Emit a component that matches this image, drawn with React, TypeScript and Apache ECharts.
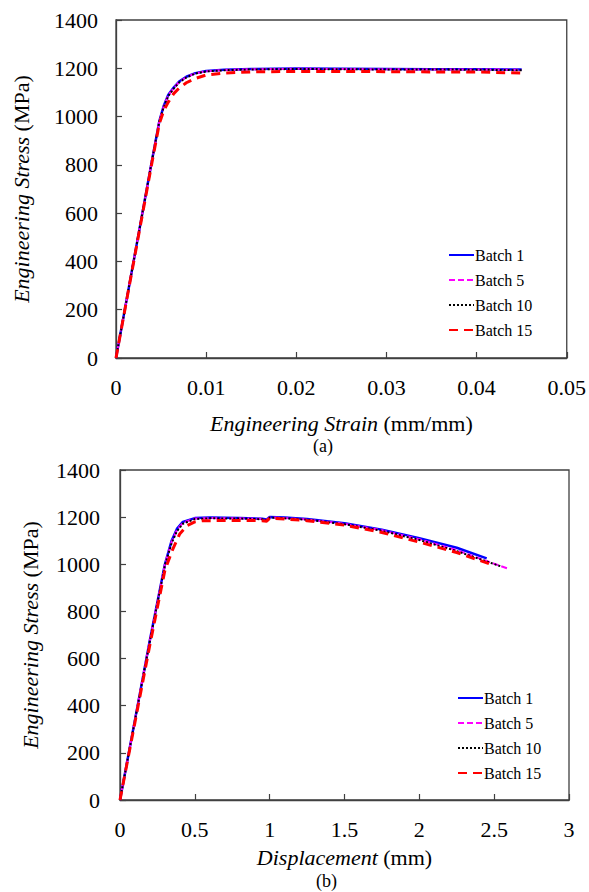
import React, { useEffect, useRef } from "react";
import * as echarts from "echarts";

// ---------- Data ----------
const batchNames = ["Batch 1", "Batch 5", "Batch 10", "Batch 15"];

// (a) Engineering strain (mm/mm) – shared sample points
const strainA = [0, 0.001, 0.002, 0.003, 0.004, 0.0048, 0.0053, 0.0058, 0.0064, 0.007, 0.0078, 0.0088, 0.01, 0.012, 0.015, 0.02, 0.025, 0.03, 0.035, 0.04, 0.045];
const stressA_B1 = [0, 205, 410, 615, 820, 980, 1045, 1090, 1120, 1145, 1165, 1180, 1189, 1194, 1197, 1199, 1198, 1197, 1196, 1196, 1195];
const stressA_B5 = [0, 205, 410, 615, 820, 980, 1043, 1088, 1118, 1143, 1163, 1179, 1188, 1193, 1196, 1198, 1197, 1196, 1195, 1195, 1194];
const stressA_B10 = [0, 205, 410, 615, 820, 978, 1040, 1085, 1116, 1141, 1162, 1178, 1187, 1192, 1195, 1197, 1196, 1195, 1195, 1194, 1192];
const stressA_B15 = [0, 203, 406, 609, 812, 970, 1025, 1060, 1095, 1118, 1140, 1158, 1172, 1180, 1185, 1187, 1187, 1186, 1185, 1185, 1180];

// (b) Displacement (mm)
const dispB_B1 = [0, 0.1, 0.2, 0.3, 0.345, 0.38, 0.42, 0.5, 0.6, 0.8, 0.95, 0.98, 1.0, 1.1, 1.25, 1.5, 1.75, 2.0, 2.25, 2.45];
const stressB_B1 = [0, 340, 680, 1000, 1100, 1150, 1180, 1196, 1198, 1196, 1193, 1190, 1201, 1198, 1192, 1174, 1147, 1111, 1070, 1025];
const dispB_B5 = [0, 0.1, 0.2, 0.3, 0.345, 0.38, 0.42, 0.5, 0.6, 0.8, 0.95, 0.98, 1.0, 1.1, 1.25, 1.5, 1.75, 2.0, 2.25, 2.5, 2.6];
const stressB_B5 = [0, 340, 680, 998, 1095, 1145, 1176, 1194, 1196, 1195, 1192, 1189, 1199, 1196, 1190, 1172, 1144, 1106, 1060, 1002, 980];
const dispB_B10 = [0, 0.1, 0.2, 0.3, 0.345, 0.38, 0.42, 0.5, 0.6, 0.8, 0.95, 0.98, 1.0, 1.1, 1.25, 1.5, 1.75, 2.0, 2.25, 2.55];
const stressB_B10 = [0, 338, 676, 995, 1090, 1140, 1172, 1192, 1195, 1194, 1191, 1188, 1198, 1195, 1189, 1170, 1142, 1103, 1056, 990];
const dispB_B15 = [0, 0.1, 0.2, 0.3, 0.35, 0.4, 0.45, 0.5, 0.55, 0.8, 0.95, 0.98, 1.0, 1.1, 1.25, 1.5, 1.75, 2.0, 2.25, 2.5];
const stressB_B15 = [0, 330, 660, 975, 1060, 1130, 1165, 1180, 1185, 1186, 1185, 1183, 1195, 1192, 1185, 1166, 1135, 1094, 1050, 995];

// x/y tick settings
const xTicksA = { min: 0, max: 0.05, interval: 0.01 };
const xTicksB = { min: 0, max: 3, interval: 0.5 };
const yTicks = { min: 0, max: 1400, interval: 200 };

// ---------- Styles ----------
const FONT = "Times New Roman, Liberation Serif, DejaVu Serif, serif";
const AXIS_COLOR = "#404040";
const colors = ["#0000ff", "#ff00ff", "#000000", "#ff0000"];
const lineTypes: any[] = ["solid", [6, 3], [2, 2], [9, 6]];
const widths = [2.5, 2, 2, 3];

const zip = (xs: number[], ys: number[]) => xs.map((x, i) => [x, ys[i]]);

export default function App() {
  const ref = useRef<HTMLDivElement>(null);

  useEffect(() => {
    if (!ref.current) return;
    const chart = echarts.init(ref.current, undefined, { renderer: "svg" });

    const plain = (v: number) => String(Math.round(v * 1000) / 1000);

    const axisCommon = {
      type: "value",
      axisLine: { show: true, lineStyle: { color: AXIS_COLOR, width: 1.3 } },
      axisTick: { show: true, inside: true, length: 6, lineStyle: { color: AXIS_COLOR, width: 1.2 } },
      splitLine: { show: false },
      axisLabel: { color: "#000", fontSize: 22, fontFamily: FONT, formatter: plain },
    };
    const nameStyle = {
      color: "#000",
      fontSize: 22,
      fontFamily: FONT,
      rich: { i: { fontStyle: "italic", fontSize: 22, fontFamily: FONT, color: "#000" } },
    };

    const aData = [stressA_B1, stressA_B5, stressA_B10, stressA_B15];
    const bX = [dispB_B1, dispB_B5, dispB_B10, dispB_B15];
    const bY = [stressB_B1, stressB_B5, stressB_B10, stressB_B15];

    const series: any[] = [];
    batchNames.forEach((name, i) => {
      series.push({
        name,
        type: "line",
        xAxisIndex: 0,
        yAxisIndex: 0,
        symbol: "none",
        color: colors[i],
        lineStyle: { color: colors[i], width: widths[i], type: lineTypes[i] },
        data: zip(strainA, aData[i]),
        z: 2 + i,
      });
    });
    batchNames.forEach((name, i) => {
      series.push({
        name,
        type: "line",
        xAxisIndex: 1,
        yAxisIndex: 1,
        symbol: "none",
        color: colors[i],
        lineStyle: { color: colors[i], width: widths[i], type: lineTypes[i] },
        data: zip(bX[i], bY[i]),
        z: 2 + i,
      });
    });

    const legendCommon = {
      orient: "vertical",
      data: batchNames,
      itemWidth: 25,
      itemHeight: 14,
      itemGap: 9,
      padding: 0,
      itemStyle: { opacity: 0 },
      textStyle: { color: "#000", fontSize: 16, fontFamily: FONT, padding: [0, 0, 0, -4] },
    };

    const option: any = {
      animation: false,
      backgroundColor: "#fff",
      grid: [
        { left: 116, top: 20, width: 451, height: 338, show: true, borderColor: AXIS_COLOR, borderWidth: 1.3 },
        { left: 120, top: 470, width: 449, height: 330, show: true, borderColor: AXIS_COLOR, borderWidth: 1.3 },
      ],
      xAxis: [
        {
          ...axisCommon,
          gridIndex: 0,
          ...xTicksA,
          axisLabel: { ...axisCommon.axisLabel, margin: 18 },
          name: "{i|Engineering Strain} (mm/mm)",
          nameLocation: "middle",
          nameGap: 54,
          nameTextStyle: nameStyle,
        },
        {
          ...axisCommon,
          gridIndex: 1,
          ...xTicksB,
          axisLabel: { ...axisCommon.axisLabel, margin: 18 },
          name: "{i|Displacement} (mm)",
          nameLocation: "middle",
          nameGap: 46,
          nameTextStyle: nameStyle,
        },
      ],
      yAxis: [
        {
          ...axisCommon,
          gridIndex: 0,
          ...yTicks,
          axisLabel: { ...axisCommon.axisLabel, margin: 18 },
          name: "{i|Engineering Stress} (MPa)",
          nameLocation: "middle",
          nameRotate: 90,
          nameGap: 84,
          nameTextStyle: nameStyle,
        },
        {
          ...axisCommon,
          gridIndex: 1,
          ...yTicks,
          axisLabel: { ...axisCommon.axisLabel, margin: 20 },
          name: "{i|Engineering Stress} (MPa)",
          nameLocation: "middle",
          nameRotate: 90,
          nameGap: 79,
          nameTextStyle: nameStyle,
        },
      ],
      legend: [
        { ...legendCommon, left: 448, top: 247 },
        { ...legendCommon, left: 457, top: 690 },
      ],
      graphic: [
        { type: "text", left: 313, top: 437, style: { text: "(a)", fontSize: 18, fontFamily: FONT, fill: "#000" } },
        { type: "text", left: 316, top: 872, style: { text: "(b)", fontSize: 18, fontFamily: FONT, fill: "#000" } },
      ],
      series,
    };

    chart.setOption(option);
    return () => chart.dispose();
  }, []);

  return (
    <div
      ref={ref}
      style={{ position: "fixed", left: 0, top: 0, width: 589, height: 892, background: "#fff" }}
    />
  );
}
